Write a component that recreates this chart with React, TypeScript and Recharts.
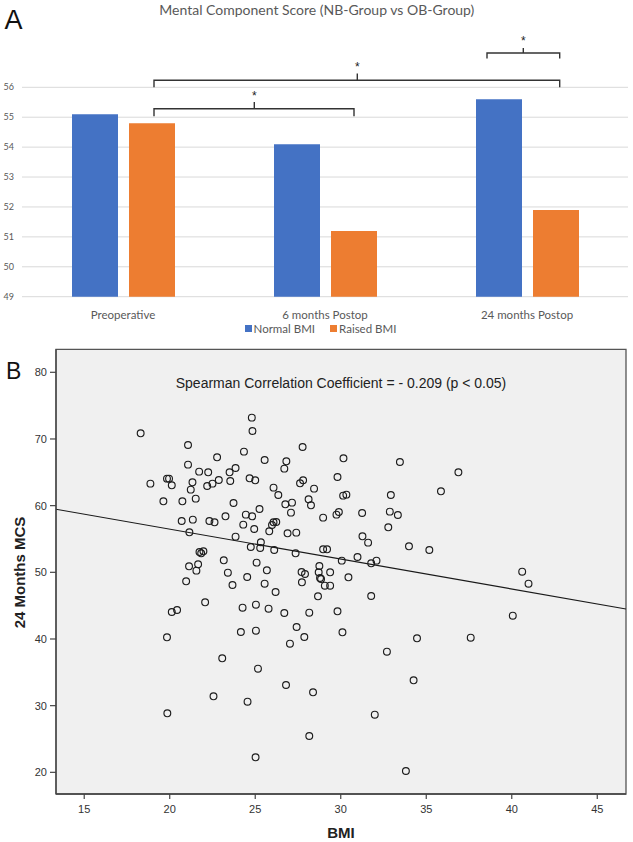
import React from 'react';
import {
  BarChart, Bar, XAxis, YAxis, CartesianGrid, Legend,
  ScatterChart, Scatter, ReferenceLine, ReferenceArea,
} from 'recharts';

// ---------- Panel A data ----------
const categories = ['Preoperative', '6 months Postop', '24 months Postop'];
const seriesNames = ['Normal BMI', 'Raised BMI'];
const normalBMI = [55.1, 54.1, 55.6];
const raisedBMI = [54.8, 51.2, 51.9];
const barTicks = [49, 50, 51, 52, 53, 54, 55, 56];
const barColors = ['#4472C4', '#ED7D31'];

// ---------- Panel B data ----------
const bmiValues = [
  18.30, 24.80, 24.84, 21.07, 27.77, 24.34, 22.77, 25.55, 26.82, 26.70,
  21.07, 23.85, 23.50, 21.72, 22.25, 18.87, 19.84, 19.96, 20.12, 21.33,
  21.23, 22.19, 22.50, 22.87, 23.54, 24.67, 25.00, 26.07, 26.35, 27.62,
  27.80, 28.44, 19.63, 20.74, 21.52, 23.73, 25.25, 24.45, 24.82, 23.26,
  26.76, 27.15, 27.09, 28.12, 28.26, 20.70, 21.35, 22.32, 22.62, 24.30,
  24.94, 25.82, 26.07, 26.23, 25.98, 26.89, 27.40, 21.15, 23.85, 25.33,
  25.29, 24.74, 26.11, 27.36, 21.74, 21.97, 21.84, 23.16, 25.08, 21.13,
  21.66, 21.56, 23.40, 24.53, 25.68, 27.71, 27.91, 20.96, 23.67, 25.55,
  27.73, 26.19,
  30.16, 33.46, 36.88, 29.81, 30.14, 30.33, 32.93, 35.86, 28.97, 29.75,
  29.89, 31.25, 32.87, 33.34, 32.78, 31.27, 31.60, 33.99, 35.18, 28.97,
  29.20, 30.06, 30.98, 31.78, 32.09, 28.75, 28.71, 28.79, 28.85, 29.38,
  29.07, 29.38, 30.45, 40.61, 40.98, 28.67, 31.78,
  22.07, 20.12, 20.43, 24.26, 25.04, 25.78, 26.70, 28.16, 27.42, 24.16,
  25.04, 27.87, 27.03, 19.84, 23.07, 25.16, 22.56, 24.55, 26.80, 28.38,
  19.86, 28.16, 25.02,
  29.81, 30.10, 34.46, 37.60, 40.06, 32.70, 34.26, 31.99, 33.81,
];
const mcsValues = [
  70.85, 73.2, 71.2, 69.1, 68.8, 68.1, 67.25, 66.85, 66.65, 65.55,
  66.15, 65.65, 65.0, 65.1, 65.0, 63.3, 64.05, 64.05, 63.05, 63.5,
  62.4, 62.95, 63.3, 63.85, 63.7, 64.1, 63.8, 62.7, 61.6, 63.35,
  63.8, 62.55, 60.65, 60.65, 61.05, 60.4, 59.5, 58.65, 58.4, 58.4,
  60.2, 60.45, 58.95, 60.95, 60.05, 57.7, 57.9, 57.7, 57.5, 57.15,
  56.5, 56.15, 57.5, 57.55, 57.1, 55.85, 55.95, 56.0, 55.35, 54.5,
  53.65, 53.8, 53.35, 52.85, 53.05, 53.15, 52.85, 51.8, 51.45, 50.9,
  51.2, 50.25, 49.95, 49.3, 50.3, 50.05, 49.75, 48.65, 48.1, 48.3,
  48.5, 47.05,
  67.1, 66.55, 65.0, 64.3, 61.5, 61.65, 61.6, 62.15, 58.2, 58.65,
  59.05, 58.9, 59.1, 58.6, 56.75, 55.4, 54.45, 53.9, 53.35, 53.45,
  53.45, 51.75, 52.3, 51.35, 51.75, 50.95, 50.0, 49.15, 49.0, 50.0,
  48.0, 48.0, 49.25, 50.1, 48.3, 46.4, 46.45,
  45.5, 44.05, 44.35, 44.7, 45.15, 44.55, 43.9, 43.95, 41.8, 41.05,
  41.25, 40.3, 39.3, 40.25, 37.1, 35.55, 31.4, 30.6, 33.1, 32.0,
  28.85, 25.45, 22.25,
  44.15, 41.0, 40.1, 40.2, 43.5, 38.1, 33.8, 28.65, 20.2,
];
const bmiTicks = [15, 20, 25, 30, 35, 40, 45];
const mcsTicks = [20, 30, 40, 50, 60, 70, 80];
const bmiDomain = [13.35, 46.68];
const mcsDomain = [16.75, 83.45];
const fitIntercept = 65.44;
const fitSlope = -0.4485;

const barData = categories.map((c, i) => ({ category: c, normal: normalBMI[i], raised: raisedBMI[i] }));
const scatterData = bmiValues.map((b, i) => ({ bmi: b, mcs: mcsValues[i] }));
const fitSegment = bmiDomain.map((x) => ({ x, y: fitIntercept + fitSlope * x }));

// ---------- layout (pixels) ----------
const W = 633;
const TOP_FONT = 'Lato, "Open Sans", sans-serif';
const B_FONT = '"Liberation Sans", Arial, sans-serif';
const bracketLayout = [
  { x1: 154, x2: 354, xc: 254.3, yTop: 108.7, yLeg: 116.3, yTip: 102, yStar: 93 },
  { x1: 154, x2: 559.7, xc: 357.3, yTop: 80.3, yLeg: 87.3, yTip: 73.5, yStar: 63.7 },
  { x1: 487, x2: 559.7, xc: 523.3, yTop: 53, yLeg: 58.5, yTip: 48, yStar: 38 },
];

const OpenCircle = (props: any) => {
  const { cx, cy } = props;
  if (cx == null || cy == null) return null;
  return <circle cx={cx} cy={cy} r={3.4} fill="none" stroke="#1c1c1c" strokeWidth={1.15} />;
};

const LegendContent = (props: any) => {
  const payload = props.payload || [];
  return (
    <div style={{ display: 'flex', justifyContent: 'center', alignItems: 'center', height: 16, paddingLeft: 8, fontFamily: TOP_FONT, fontSize: 11.5, color: '#595959' }}>
      {payload.map((p: any, i: number) => (
        <div key={i} style={{ display: 'flex', alignItems: 'center', marginRight: i === 0 ? 15 : 0 }}>
          <span style={{ display: 'inline-block', width: 7, height: 7, background: p.color, marginRight: 2 }} />
          <span>{p.value}</span>
        </div>
      ))}
    </div>
  );
};

export default function App() {
  return (
    <div style={{ position: 'absolute', left: 0, top: 0, width: W, height: 842, background: '#fff' }}>
      {/* Panel A */}
      <div style={{ position: 'absolute', left: 0, top: 0 }}>
        <BarChart
          width={W}
          height={340}
          data={barData}
          margin={{ top: 87.3, right: 5, left: 0, bottom: 2.3 }}
          barGap={11}
        >
          <CartesianGrid vertical={false} stroke="#D9D9D9" />
          <XAxis
            dataKey="category"
            axisLine={false}
            tickLine={false}
            height={25}
            tickMargin={8}
            tick={{ fontFamily: TOP_FONT, fontSize: 11.5, fill: '#595959' }}
            interval={0}
          />
          <YAxis
            domain={[49, 56]}
            ticks={barTicks}
            axisLine={false}
            tickLine={false}
            width={22}
            tick={{ fontFamily: TOP_FONT, fontSize: 9, fill: '#595959' }}
          />
          <Legend
            verticalAlign="bottom"
            height={16}
            wrapperStyle={{ position: 'absolute', top: 320, left: 0, width: W, height: 16, bottom: 'auto' }}
            content={<LegendContent />}
          />
          <Bar dataKey="normal" name={seriesNames[0]} fill={barColors[0]} barSize={46} isAnimationActive={false} />
          <Bar dataKey="raised" name={seriesNames[1]} fill={barColors[1]} barSize={46} isAnimationActive={false} />
        </BarChart>
      </div>

      {/* Panel B */}
      <div style={{ position: 'absolute', left: 0, top: 340 }}>
        <ScatterChart width={W} height={502} margin={{ top: 9.3, right: 7, left: 0, bottom: 18 }}>
          <CartesianGrid horizontal={false} vertical={false} fill="#F0F0F0" fillOpacity={1} />
          <XAxis
            type="number"
            dataKey="bmi"
            domain={bmiDomain}
            ticks={bmiTicks}
            allowDataOverflow
            height={30}
            tickSize={5}
            tickMargin={6}
            axisLine={{ stroke: '#444', strokeWidth: 1.3 }}
            tickLine={{ stroke: '#444', strokeWidth: 1.2 }}
            tick={{ fontFamily: B_FONT, fontSize: 11, fill: '#333' }}
          />
          <YAxis
            type="number"
            dataKey="mcs"
            domain={mcsDomain}
            ticks={mcsTicks}
            allowDataOverflow
            width={56}
            tickSize={6}
            tickMargin={3}
            axisLine={{ stroke: '#444', strokeWidth: 1.3 }}
            tickLine={{ stroke: '#444', strokeWidth: 1.2 }}
            tick={{ fontFamily: B_FONT, fontSize: 11, fill: '#333' }}
          />
          <ReferenceArea
            x1={bmiDomain[0]}
            x2={bmiDomain[1]}
            y1={mcsDomain[0]}
            y2={mcsDomain[1]}
            fill="none"
            stroke="#555"
            strokeWidth={1.3}
            ifOverflow="visible"
          />
          <ReferenceLine
            segment={fitSegment}
            stroke="#1a1a1a"
            strokeWidth={1.1}
            ifOverflow="hidden"
          />
          <Scatter data={scatterData} shape={<OpenCircle />} isAnimationActive={false} />
        </ScatterChart>
      </div>

      {/* Text and bracket annotations */}
      <svg width={W} height={842} style={{ position: 'absolute', left: 0, top: 0, pointerEvents: 'none' }}>
        <text x={4.5} y={29.3} fontFamily={B_FONT} fontSize={27} fill="#111">A</text>
        <text x={316.8} y={15} textAnchor="middle" fontFamily={TOP_FONT} fontSize={14} fill="#595959">
          Mental Component Score (NB-Group vs OB-Group)
        </text>
        {bracketLayout.map((b, i) => (
          <g key={i} stroke="#333" strokeWidth={1.4} fill="none">
            <path d={`M${b.x1},${b.yLeg} L${b.x1},${b.yTop} L${b.x2},${b.yTop} L${b.x2},${b.yLeg}`} />
            <path d={`M${b.xc},${b.yTop} L${b.xc},${b.yTip}`} />
          </g>
        ))}
        {bracketLayout.map((b, i) => (
          <text key={'s' + i} x={b.xc} y={b.yStar + 6.8} textAnchor="middle" fontFamily={B_FONT} fontSize={12} fill="#222">*</text>
        ))}
        <text x={6} y={379} fontFamily={B_FONT} fontSize={23} fill="#111">B</text>
        <text x={341} y={387.5} textAnchor="middle" fontFamily={B_FONT} fontSize={14} fill="#222">
          Spearman Correlation Coefficient = - 0.209 (p &lt; 0.05)
        </text>
        <text x={341} y={838.3} textAnchor="middle" fontFamily={B_FONT} fontSize={15} fontWeight="bold" fill="#222">BMI</text>
        <text transform="translate(24.5,572.5) rotate(-90)" textAnchor="middle" fontFamily={B_FONT} fontSize={15} fontWeight="bold" fill="#222">
          24 Months MCS
        </text>
      </svg>
    </div>
  );
}
